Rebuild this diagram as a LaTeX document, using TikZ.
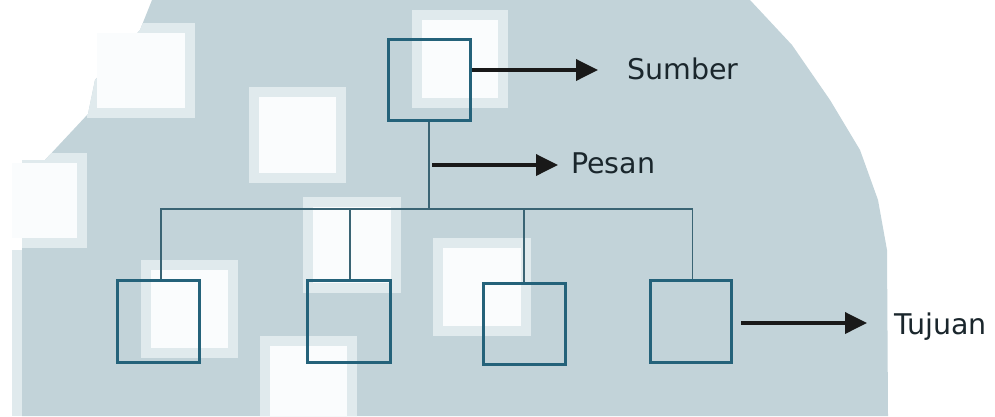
\documentclass[tikz,border=0pt]{standalone}
\usepackage{fontspec}
\setmainfont{DejaVu Sans}
\usetikzlibrary{arrows.meta}
\definecolor{bgblue}{RGB}{194,211,217}
\definecolor{fringe}{RGB}{224,234,237}
\definecolor{wm}{RGB}{250,252,253}
\definecolor{boxcol}{RGB}{36,98,122}
\definecolor{linecol}{RGB}{58,100,116}
\definecolor{txtcol}{RGB}{26,38,44}
\tikzset{
  unit/.style={draw=boxcol, line width=3pt, minimum width=82pt, minimum height=82pt, inner sep=0pt},
  conn/.style={draw=linecol, line width=1.5pt},
  arr/.style={draw=black!90, line width=3.6pt, -{Triangle[length=22pt,width=21pt]}},
  lbl/.style={font=\fontsize{28.5}{34}\selectfont, text=txtcol, anchor=base west, inner sep=0pt}
}
\newcommand{\bgshape}{(152,0) -- (750,0) -- (792,45) -- (830,100) -- (860,150) -- (878,200)
  -- (887,250) -- (888,416) -- (22,416) -- (22,160) -- (45,160) -- (88,114)
  -- (95,80) -- (140,30) -- cycle}
\newcommand{\wfr}[4]{\fill[fringe] (#1,#2) rectangle (#3,#4);}
\newcommand{\wco}[4]{\fill[wm] (#1+10,#2+10) rectangle (#3-10,#4-10);}
\newcommand{\allsq}[1]{%
  #1{412}{10}{508}{108}
  #1{249}{87}{346}{183}
  #1{87}{23}{195}{118}
  #1{2}{153}{87}{248}
  #1{303}{197}{401}{293}
  #1{433}{238}{531}{336}
  #1{141}{260}{238}{358}
  #1{260}{336}{357}{426}}
\begin{document}
\begin{tikzpicture}[x=1pt,y=-1pt]
\useasboundingbox (0,0) rectangle (995,416);
\fill[white] (0,0) rectangle (995,416);
% background shape
\fill[fringe] (12,416) -- (12,250) -- (22,250) -- (22,416) -- cycle;
\fill[bgblue] \bgshape;
% watermark squares
\begin{scope}
  \clip \bgshape;
  \allsq{\wfr}
\end{scope}
\allsq{\wco}
% diagram
\node[unit, minimum height=81pt] (top) at (429,79.5) {};
\node[unit] (b1) at (158,321.5) {};
\node[unit, minimum width=83pt] (b2) at (348.5,321.5) {};
\node[unit, minimum height=81pt] (b3) at (524,323.5) {};
\node[unit, minimum width=81pt] (b4) at (690.5,321) {};
\coordinate (bus) at (429,209);
\draw[conn] (top.south) -- (bus);
\draw[conn] ([xshift=3pt]b1.north) -- ([xshift=3pt]b1.north |- bus) -- ([xshift=2pt]b4.north |- bus) -- ([xshift=2pt]b4.north);
\draw[conn] ([xshift=1.5pt]b2.north) -- ([xshift=1.5pt]b2.north |- bus);
\draw[conn] (b3.north) -- (b3.north |- bus);
% labels
\node[lbl] (sumber) at (627,79) {Sumber};
\node[lbl] (pesan) at (571,173) {Pesan};
\node[lbl] (tujuan) at (894,334) {Tujuan};
\coordinate (s1) at (472,70);
\coordinate (s2) at (598,70);
\coordinate (p1) at (432,165);
\coordinate (p2) at (558,165);
\coordinate (t1) at (741,323);
\coordinate (t2) at (867,323);
\draw[arr] (s1) -- (s2);
\draw[arr] (p1) -- (p2);
\draw[arr] (t1) -- (t2);
\end{tikzpicture}
\end{document}
